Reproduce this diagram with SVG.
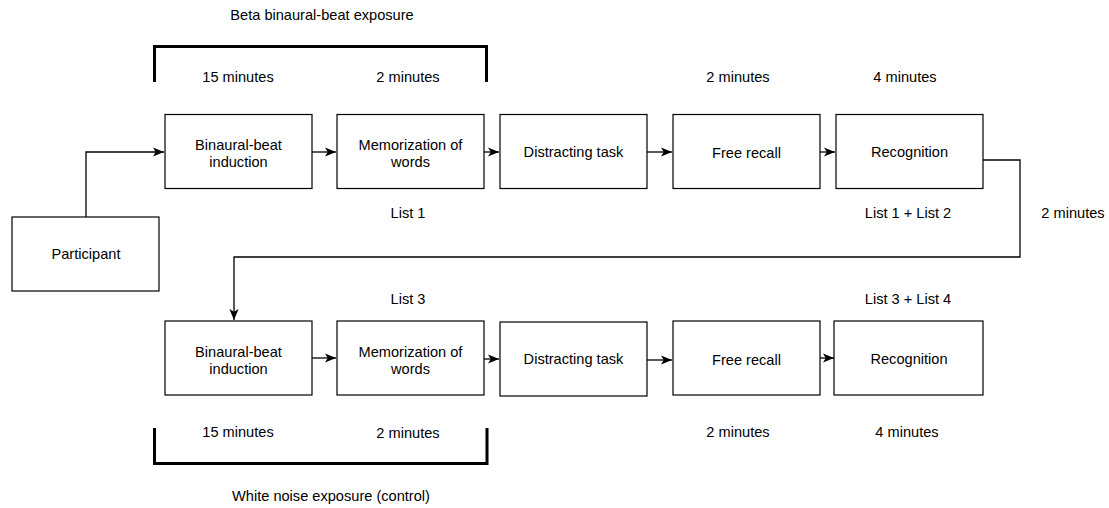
<svg xmlns="http://www.w3.org/2000/svg" width="1109" height="508" viewBox="0 0 1109 508">
<style>
.box{fill:#fff;stroke:#000;stroke-width:1.2}
.t{font-family:"Liberation Sans",Arial,sans-serif;font-size:14.6px;fill:#000;text-anchor:middle}
.c{fill:none;stroke:#000;stroke-width:1.3}
.br{fill:none;stroke:#000;stroke-width:3}
</style>
<defs>
<marker id="ah" viewBox="0 0 10 10" refX="10" refY="5" markerWidth="11" markerHeight="11" markerUnits="userSpaceOnUse" orient="auto">
<path d="M0,0.8 L10,5 L0,9.2 L2.5,5 Z" fill="#000"/>
</marker>
</defs>
<rect width="1109" height="508" fill="#fff"/>

<g id="connectors">
<path class="c" d="M86,217 V152 H164" marker-end="url(#ah)"/>
<path class="c" d="M312,152 H336" marker-end="url(#ah)"/>
<path class="c" d="M484,152 H499" marker-end="url(#ah)"/>
<path class="c" d="M647,152 H672" marker-end="url(#ah)"/>
<path class="c" d="M820,152 H835" marker-end="url(#ah)"/>
<path class="c" d="M983,160 H1020 V257 H234 V320" marker-end="url(#ah)"/>
<path class="c" d="M312,358 H336" marker-end="url(#ah)"/>
<path class="c" d="M484,359 H499" marker-end="url(#ah)"/>
<path class="c" d="M647,360 H672" marker-end="url(#ah)"/>
<path class="c" d="M820,358 H834" marker-end="url(#ah)"/>
</g>

<g id="bracket-top"><path class="br" d="M154.5,82 V46.5 H486.5 V82"/></g>
<g id="bracket-bottom"><path class="br" d="M154.5,428 V463.5 H487 V428"/></g>

<g id="participant"><rect class="box" x="12" y="217" width="147" height="74"/><text class="t" x="86" y="259">Participant</text></g>

<g id="bb1"><rect class="box" x="165" y="114.5" width="147" height="74"/><text class="t" x="238.5" y="150">Binaural-beat</text><text class="t" x="238.5" y="167">induction</text></g>
<g id="mem1"><rect class="box" x="337" y="114.5" width="147" height="74"/><text class="t" x="410.5" y="150">Memorization of</text><text class="t" x="410.5" y="167">words</text></g>
<g id="dist1"><rect class="box" x="500" y="114.5" width="147" height="74"/><text class="t" x="573.5" y="157">Distracting task</text></g>
<g id="free1"><rect class="box" x="673" y="114.5" width="147" height="74"/><text class="t" x="746.5" y="158">Free recall</text></g>
<g id="rec1"><rect class="box" x="836" y="114.5" width="147" height="74"/><text class="t" x="909.5" y="157">Recognition</text></g>

<g id="bb2"><rect class="box" x="165" y="321" width="147" height="74"/><text class="t" x="238.5" y="357">Binaural-beat</text><text class="t" x="238.5" y="374">induction</text></g>
<g id="mem2"><rect class="box" x="337" y="321" width="147" height="74"/><text class="t" x="410.5" y="357">Memorization of</text><text class="t" x="410.5" y="374">words</text></g>
<g id="dist2"><rect class="box" x="500" y="322" width="147" height="74"/><text class="t" x="573.5" y="364">Distracting task</text></g>
<g id="free2"><rect class="box" x="673" y="321" width="147" height="74"/><text class="t" x="746.5" y="365">Free recall</text></g>
<g id="rec2"><rect class="box" x="834" y="321" width="149" height="74"/><text class="t" x="909" y="364">Recognition</text></g>

<g id="labels">
<text class="t" x="322" y="20">Beta binaural-beat exposure</text>
<text class="t" x="238" y="82">15 minutes</text>
<text class="t" x="408" y="82">2 minutes</text>
<text class="t" x="738" y="82">2 minutes</text>
<text class="t" x="905" y="82">4 minutes</text>
<text class="t" x="408" y="218">List 1</text>
<text class="t" x="908" y="218">List 1 + List 2</text>
<text class="t" x="1073" y="218">2 minutes</text>
<text class="t" x="408" y="304">List 3</text>
<text class="t" x="908" y="304">List 3 + List 4</text>
<text class="t" x="238" y="437">15 minutes</text>
<text class="t" x="408" y="438">2 minutes</text>
<text class="t" x="738" y="437">2 minutes</text>
<text class="t" x="907" y="437">4 minutes</text>
<text class="t" x="331" y="501">White noise exposure (control)</text>
</g>
</svg>
